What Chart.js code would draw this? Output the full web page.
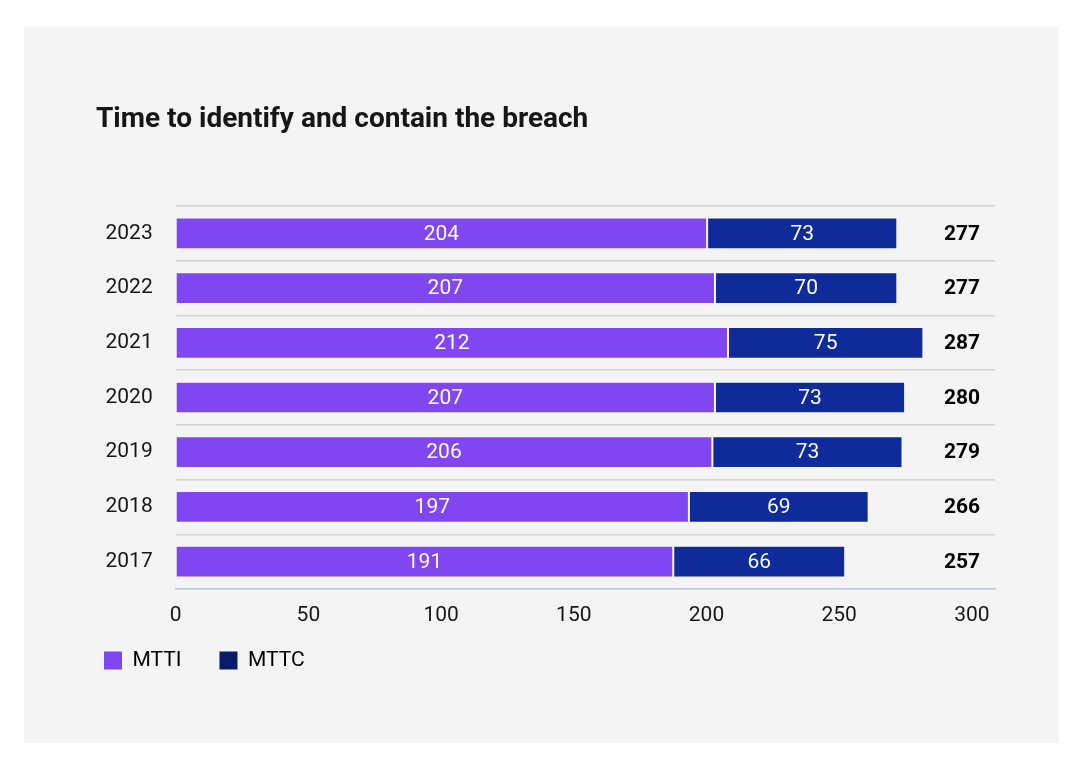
<!DOCTYPE html>
<html>
<head>
<meta charset="utf-8">
<title>Time to identify and contain the breach</title>
<script src="https://cdn.jsdelivr.net/npm/chart.js@4.4.1/dist/chart.umd.min.js"></script>
<style>
  body { margin: 0; background: #fff; font-family: Roboto, "Open Sans", sans-serif; }
  #panel { position: absolute; left: 24px; top: 27px; width: 1035px; height: 716px; background: #f4f4f4; }
  #title { position: absolute; left: 72px; top: 74px; margin: 0; font: 700 28px/34px Roboto, sans-serif; color: #161616; }
  #chart { position: absolute; left: 0; top: 0; }
</style>
</head>
<body>
<div id="panel">
  <canvas id="chart" width="1035" height="716"></canvas>
  <h2 id="title">Time to identify and contain the breach</h2>
</div>
<script>
// 数据
const years = ['2023', '2022', '2021', '2020', '2019', '2018', '2017'];
const mtti = [204, 207, 212, 207, 206, 197, 191];
const mttc = [73, 70, 75, 73, 73, 69, 66];
const totals = [277, 277, 287, 280, 279, 266, 257];
const xTicks = [0, 50, 100, 150, 200, 250, 300];

const purple = '#8046f1';
const navy = '#0f2b99';
const navyLegend = '#061c6b';

Chart.defaults.font.family = 'Roboto, "Open Sans", sans-serif';
Chart.defaults.color = '#161616';

// 柱内数值 + 右侧合计
const barLabels = {
  id: 'barLabels',
  afterLayout(chart) {
    // x 轴高度被压缩后，放宽标签裁剪区域
    const xt = chart.scales.xt;
    xt.bottom = xt.top + 42;
  },
  afterDatasetsDraw(chart) {
    const ctx = chart.ctx;
    ctx.save();
    ctx.textAlign = 'center';
    ctx.textBaseline = 'middle';
    ctx.font = '21px Roboto, sans-serif';
    ctx.fillStyle = '#ffffff';
    chart.data.datasets.forEach((ds, i) => {
      chart.getDatasetMeta(i).data.forEach((bar, j) => {
        const p = bar.getProps(['x', 'y', 'base'], true);
        ctx.fillText(ds.data[j], (p.x + p.base) / 2, p.y + 1);
      });
    });
    ctx.font = 'bold 21px Roboto, sans-serif';
    ctx.fillStyle = '#000000';
    chart.getDatasetMeta(0).data.forEach((bar, j) => {
      ctx.fillText(totals[j], chart.chartArea.right - 33, bar.y + 1);
    });
    ctx.restore();
  }
};

new Chart(document.getElementById('chart'), {
  type: 'bar',
  data: {
    labels: years,
    datasets: [{
      label: 'MTTI',
      data: mtti,
      backgroundColor: purple,
      borderColor: 'rgba(255,255,255,0.55)',
      borderWidth: 1,
      borderSkipped: false,
      xAxisID: 'x'
    }, {
      label: 'MTTC',
      data: mttc,
      backgroundColor: navy,
      borderColor: 'rgba(255,255,255,0.55)',
      borderWidth: 1,
      borderSkipped: false,
      xAxisID: 'x'
    }]
  },
  options: {
    indexAxis: 'y',
    responsive: false,
    animation: false,
    categoryPercentage: 1,
    barPercentage: 0.58,
    layout: { padding: { left: 42, right: 64, top: 179, bottom: 62 } },
    scales: {
      x: { type: 'linear', stacked: true, min: 0, max: 314.5, display: false },
      xt: {
        type: 'linear', position: 'bottom', min: 0, max: 308.7,
        afterBuildTicks: s => { s.ticks = xTicks.map(v => ({ value: v })); },
        afterFit: s => { s.height = 23; },
        grid: { display: false, drawTicks: false },
        border: { display: true, color: '#bcc8d9', width: 1.5 },
        ticks: { padding: 14, color: '#161616', font: { size: 21 } }
      },
      y: {
        stacked: true,
        afterFit: s => { s.width = 109.7; },
        grid: { color: '#d2d2d2', lineWidth: 1.5, drawTicks: false, offset: true },
        border: { display: false },
        ticks: { padding: 23, color: '#161616', font: { size: 21 } }
      }
    },
    plugins: {
      title: { display: false },
      tooltip: { enabled: false },
      legend: {
        position: 'bottom',
        align: 'start',
        labels: {
          boxWidth: 18,
          boxHeight: 18,
          padding: 38,
          color: '#161616',
          font: { size: 21 },
          generateLabels: () => [
            { text: 'MTTI', fillStyle: purple, strokeStyle: purple, lineWidth: 0, datasetIndex: 0 },
            { text: 'MTTC', fillStyle: navyLegend, strokeStyle: navyLegend, lineWidth: 0, datasetIndex: 1 }
          ]
        }
      }
    }
  },
  plugins: [barLabels]
});
</script>
</body>
</html>
